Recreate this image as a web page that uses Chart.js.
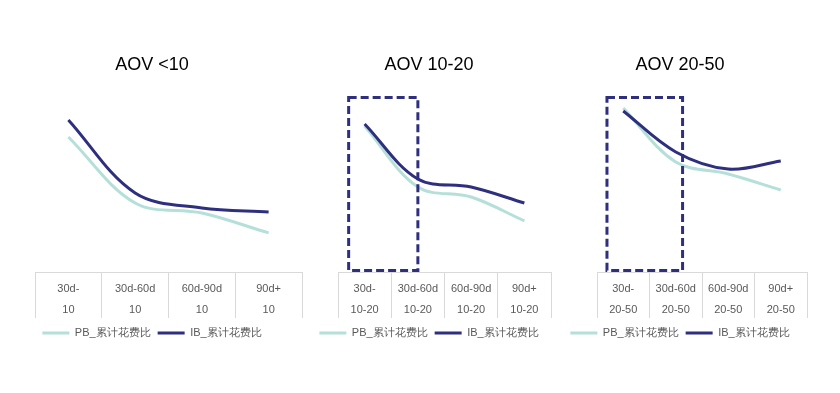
<!DOCTYPE html>
<html>
<head>
<meta charset="utf-8">
<script src="https://cdn.jsdelivr.net/npm/chart.js@4"></script>
<style>
  body { margin: 0; width: 840px; height: 393px; background: #fff; position: relative; overflow: hidden; }
  .box { position: absolute; top: 40px; height: 310px; }
</style>
</head>
<body>
<div class="box" style="left:2px;width:302px"><canvas id="c1"></canvas></div>
<div class="box" style="left:307px;width:246px"><canvas id="c2"></canvas></div>
<div class="box" style="left:553px;width:256px"><canvas id="c3"></canvas></div>
<script>
// tick labels
const periods = ['30d-', '30d-60d', '60d-90d', '90d+'];
const titles = ['AOV <10', 'AOV 10-20', 'AOV 20-50'];
const subLabels = ['10', '10-20', '20-50'];
const seriesNames = ['PB_累计花费比', 'IB_累计花费比'];

// values (relative)
const pb1 = [76.7, 39.2, 33.5, 22.2];
const ib1 = [86.4, 44.9, 36.4, 34.1];
const pb2 = [83.0, 48.3, 42.6, 29.0];
const ib2 = [84.1, 52.8, 48.3, 39.2];
const pb3 = [93.2, 62.5, 55.7, 46.6];
const ib3 = [91.5, 68.2, 58.5, 63.1];

const PB_COLOR = '#b5e0da';
const IB_COLOR = '#2f2f7f';
const FONT = "'Liberation Sans', Arial, sans-serif";

// dashed highlight box around the first two periods
const highlightBox = {
  id: 'highlightBox',
  afterDatasetsDraw(chart, args, opts) {
    if (!opts.from && opts.from !== 0) return;
    const x = chart.scales.x;
    const step = x.getPixelForValue(1) - x.getPixelForValue(0);
    const left = x.getPixelForValue(0) + step * opts.from;
    const right = x.getPixelForValue(0) + step * opts.to;
    const {top, bottom} = chart.chartArea;
    const ctx = chart.ctx;
    ctx.save();
    ctx.strokeStyle = IB_COLOR;
    ctx.lineWidth = 3;
    ctx.setLineDash([8, 4]);
    ctx.strokeRect(left, top + 1.5, right - left, bottom - top - 3);
    ctx.restore();
  }
};

function makeChart(id, idx, pb, ib, yWidth, box) {
  const labels = periods.map(p => [p, subLabels[idx]]);
  new Chart(document.getElementById(id), {
    type: 'line',
    data: {
      labels: labels,
      datasets: [
        { label: seriesNames[0], data: pb, borderColor: PB_COLOR, backgroundColor: PB_COLOR, borderWidth: 3, order: 1 },
        { label: seriesNames[1], data: ib, borderColor: IB_COLOR, backgroundColor: IB_COLOR, borderWidth: 3, order: 0 }
      ]
    },
    options: {
      responsive: true,
      maintainAspectRatio: false,
      animation: false,
      layout: { padding: { left: 0, right: 2, top: 0, bottom: 1.5 } },
      elements: {
        line: { tension: 0.35, fill: false },
        point: { radius: 0 }
      },
      scales: {
        x: {
          offset: true,
          grid: { display: true, drawOnChartArea: false, drawTicks: true, tickLength: 46, color: '#d9d9d9', offset: true },
          border: { display: true, color: '#d9d9d9' },
          ticks: { color: '#595959', padding: -39.5, font: { size: 11, family: FONT, lineHeight: '21px' }, maxRotation: 0, autoSkip: false },
          // blank title only reserves room so the labels inside the cells are not clipped
          title: { display: true, text: ' ', font: { size: 11, family: FONT, lineHeight: 1.2 }, padding: { top: 26.3, bottom: 0 } }
        },
        y: {
          min: 0,
          max: 100,
          display: true,
          grid: { display: false, drawTicks: false },
          border: { display: false },
          ticks: { display: false },
          afterFit(s) { s.width = yWidth; }
        }
      },
      plugins: {
        title: {
          display: true,
          text: titles[idx],
          color: '#000',
          font: { size: 18, family: FONT, weight: 'normal' },
          padding: { top: 14, bottom: 20.4 }
        },
        legend: {
          position: 'bottom',
          labels: {
            usePointStyle: true,
            pointStyle: 'line',
            pointStyleWidth: 27,
            padding: 7,
            color: '#595959',
            font: { size: 11, family: FONT },
            sort: (a, b) => a.datasetIndex - b.datasetIndex
          }
        },
        tooltip: { enabled: false },
        highlightBox: box
      }
    },
    plugins: [highlightBox]
  });
}

makeChart('c1', 0, pb1, ib1, 33, {});
makeChart('c2', 1, pb2, ib2, 31, { from: -0.3, to: 1.0 });
makeChart('c3', 2, pb3, ib3, 44, { from: -0.31, to: 1.13 });
</script>
</body>
</html>
